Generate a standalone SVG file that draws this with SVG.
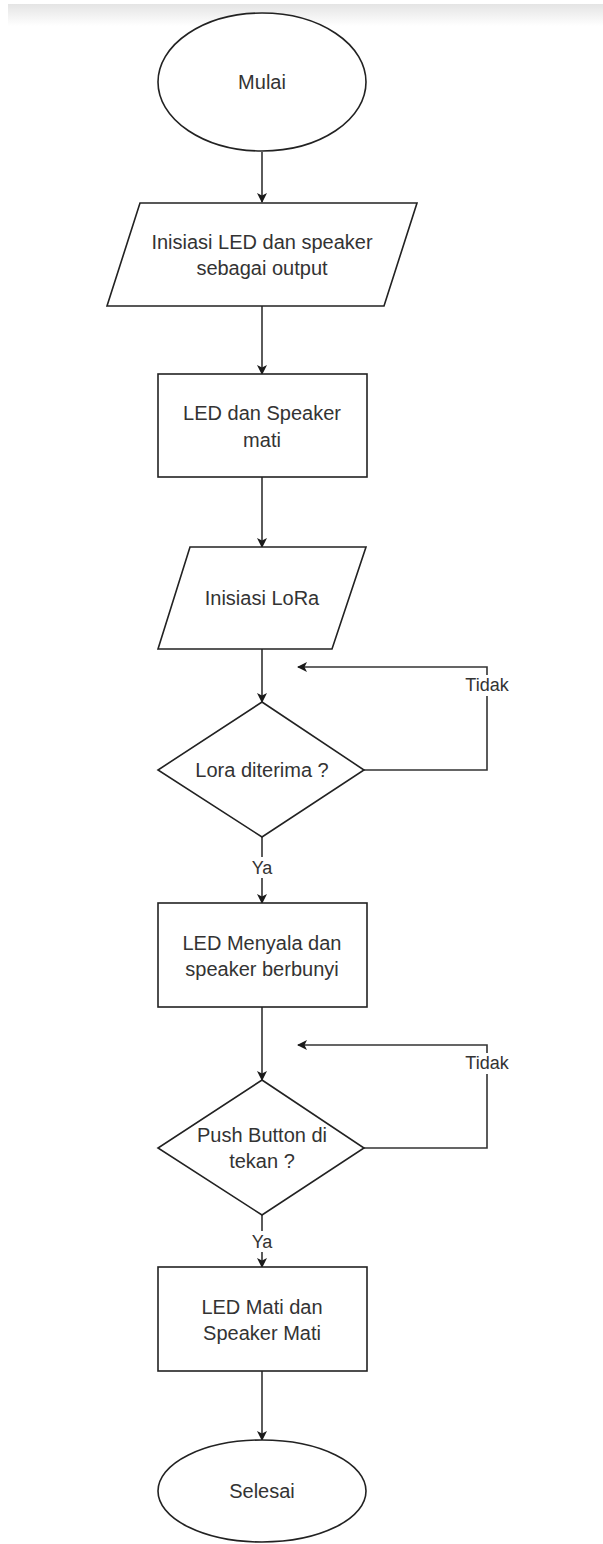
<svg xmlns="http://www.w3.org/2000/svg" width="603" height="1544" viewBox="0 0 603 1544">
<defs>
<linearGradient id="topbar" x1="0" y1="0" x2="0" y2="1">
<stop offset="0" stop-color="#e4e4e4"/>
<stop offset="1" stop-color="#ffffff"/>
</linearGradient>
<marker id="arrow" viewBox="0 0 10 10" refX="9" refY="5" markerWidth="10" markerHeight="10" markerUnits="userSpaceOnUse" orient="auto">
<path d="M0,0 L10,5 L0,10 L2.5,5 Z" fill="#1a1a1a"/>
</marker>
</defs>
<style>
.shape{fill:#ffffff;stroke:#222222;stroke-width:1.6}
.edge{fill:none;stroke:#333333;stroke-width:1.6}
.t{font-family:"Liberation Sans",Arial,sans-serif;font-size:20px;fill:#333333;text-anchor:middle}
.lbl{font-family:"Liberation Sans",Arial,sans-serif;font-size:18px;fill:#333333;text-anchor:middle}
</style>
<rect x="0" y="0" width="603" height="1544" fill="#ffffff"/>
<rect x="8" y="4" width="595" height="22" fill="url(#topbar)"/>

<g id="connectors">
<line class="edge" x1="262" y1="152" x2="262" y2="202" marker-end="url(#arrow)"/>
<line class="edge" x1="262" y1="306" x2="262" y2="374" marker-end="url(#arrow)"/>
<line class="edge" x1="262" y1="477" x2="262" y2="547" marker-end="url(#arrow)"/>
<line class="edge" x1="262" y1="649" x2="262" y2="702" marker-end="url(#arrow)"/>
<line class="edge" x1="262" y1="837" x2="262" y2="903" marker-end="url(#arrow)"/>
<line class="edge" x1="262" y1="1007" x2="262" y2="1080" marker-end="url(#arrow)"/>
<line class="edge" x1="262" y1="1215" x2="262" y2="1267" marker-end="url(#arrow)"/>
<line class="edge" x1="262" y1="1371" x2="262" y2="1440" marker-end="url(#arrow)"/>
<path class="edge" d="M364,770 H487 V667 H298" marker-end="url(#arrow)"/>
<path class="edge" d="M364,1148 H487 V1045 H298" marker-end="url(#arrow)"/>
<rect x="466" y="675" width="42" height="21" fill="#ffffff"/>
<text class="lbl" x="487" y="691">Tidak</text>
<rect x="466" y="1053" width="42" height="21" fill="#ffffff"/>
<text class="lbl" x="487" y="1069">Tidak</text>
<rect x="249" y="857" width="26" height="21" fill="#ffffff"/>
<text class="lbl" x="262" y="874">Ya</text>
<rect x="249" y="1231" width="26" height="21" fill="#ffffff"/>
<text class="lbl" x="262" y="1248">Ya</text>
</g>

<g id="mulai">
<ellipse class="shape" cx="262" cy="82" rx="104" ry="69"/>
<text class="t" x="262" y="89">Mulai</text>
</g>
<g id="inisiasi-led">
<polygon class="shape" points="140,203 417,203 384,306 107,306"/>
<text class="t" x="262" y="249">Inisiasi LED dan speaker</text>
<text class="t" x="262" y="275">sebagai output</text>
</g>
<g id="led-mati">
<rect class="shape" x="158" y="374" width="209" height="103"/>
<text class="t" x="262" y="420">LED dan Speaker</text>
<text class="t" x="262" y="447">mati</text>
</g>
<g id="inisiasi-lora">
<polygon class="shape" points="190,547 366,547 332,649 158,649"/>
<text class="t" x="262" y="605">Inisiasi LoRa</text>
</g>
<g id="lora-diterima">
<polygon class="shape" points="262,702 364,770 262,837 158,770"/>
<text class="t" x="262" y="777">Lora diterima ?</text>
</g>
<g id="led-menyala">
<rect class="shape" x="158" y="903" width="209" height="104"/>
<text class="t" x="262" y="950">LED Menyala dan</text>
<text class="t" x="262" y="976">speaker berbunyi</text>
</g>
<g id="push-button">
<polygon class="shape" points="262,1080 364,1148 262,1215 158,1148"/>
<text class="t" x="262" y="1142">Push Button di</text>
<text class="t" x="262" y="1168">tekan ?</text>
</g>
<g id="led-speaker-mati">
<rect class="shape" x="158" y="1267" width="209" height="104"/>
<text class="t" x="262" y="1314">LED Mati dan</text>
<text class="t" x="262" y="1340">Speaker Mati</text>
</g>
<g id="selesai">
<ellipse class="shape" cx="262" cy="1491" rx="104" ry="51"/>
<text class="t" x="262" y="1498">Selesai</text>
</g>
</svg>
